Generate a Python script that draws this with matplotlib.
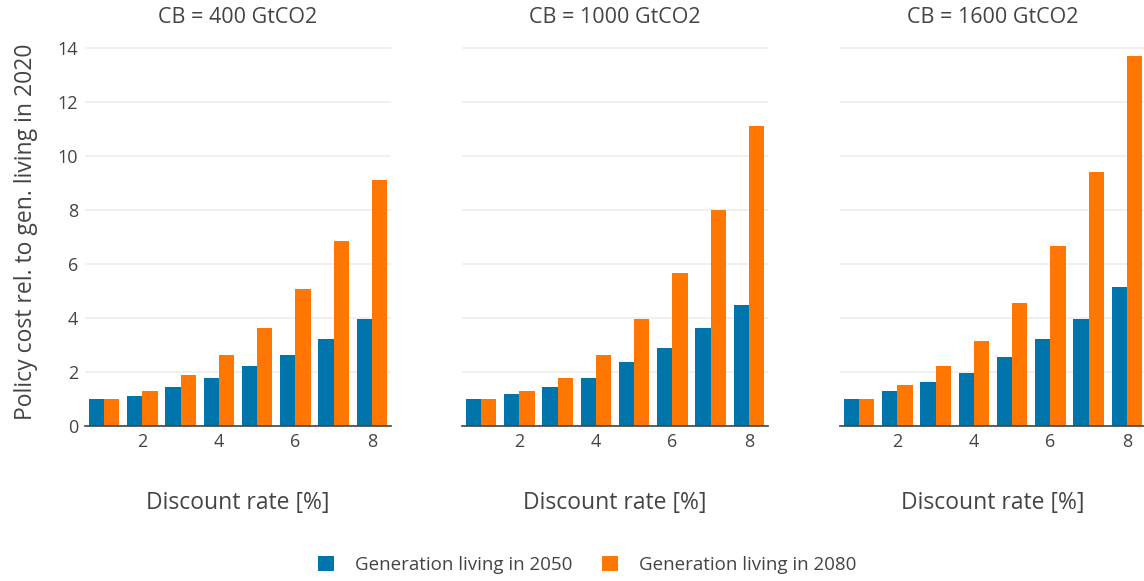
import matplotlib
matplotlib.use("Agg")
import matplotlib.pyplot as plt
import numpy as np

plt.rcParams["font.family"] = ["Open Sans", "DejaVu Sans"]

DISCOUNT_RATES = [1, 2, 3, 4, 5, 6, 7, 8]
PANEL_TITLES = ["CB = 400 GtCO2", "CB = 1000 GtCO2", "CB = 1600 GtCO2"]
SERIES_NAMES = ["Generation living in 2050", "Generation living in 2080"]

# policy cost relative to generation living in 2020
gen2050_cb400 = [1.0, 1.10, 1.43, 1.76, 2.21, 2.62, 3.21, 3.95]
gen2080_cb400 = [1.0, 1.28, 1.87, 2.62, 3.61, 5.06, 6.83, 9.09]
gen2050_cb1000 = [1.0, 1.17, 1.43, 1.76, 2.36, 2.87, 3.61, 4.47]
gen2080_cb1000 = [1.0, 1.28, 1.76, 2.62, 3.95, 5.65, 7.98, 11.09]
gen2050_cb1600 = [1.0, 1.28, 1.62, 1.95, 2.54, 3.21, 3.95, 5.13]
gen2080_cb1600 = [1.0, 1.50, 2.21, 3.13, 4.54, 6.65, 9.42, 13.68]

BLUE = "#0075ab"
ORANGE = "#ff7600"
TEXT = "#444444"

W, H = 1144, 581
fig = plt.figure(figsize=(W / 100, H / 100), dpi=100)

panels = [
    (gen2050_cb400, gen2080_cb400),
    (gen2050_cb1000, gen2080_cb1000),
    (gen2050_cb1600, gen2080_cb1600),
]
lefts = [85, 462, 840]
ax_w, top_px, bottom_px = 306, 37, 426

x = np.array(DISCOUNT_RATES)
bw = 0.4
for i, (blue, orange) in enumerate(panels):
    ax = fig.add_axes([lefts[i] / W, 1 - bottom_px / H, ax_w / W, (bottom_px - top_px) / H])
    ax.bar(x - bw / 2, blue, bw, color=BLUE, label=SERIES_NAMES[0], zorder=2)
    ax.bar(x + bw / 2, orange, bw, color=ORANGE, label=SERIES_NAMES[1], zorder=2)
    ax.set_xlim(0.5, 8.5)
    ax.set_ylim(0, 14.4)
    ax.set_xticks([2, 4, 6, 8])
    ax.set_yticks([0, 2, 4, 6, 8, 10, 12, 14])
    ax.grid(axis="y", color="#eeeeee", linewidth=1.2, zorder=0)
    for s in ["top", "right", "left"]:
        ax.spines[s].set_visible(False)
    ax.spines["bottom"].set_color("#444444")
    ax.spines["bottom"].set_linewidth(1.2)
    ax.spines["bottom"].set_zorder(3)
    ax.tick_params(length=0, labelsize=13, labelcolor=TEXT, pad=5)
    if i > 0:
        ax.tick_params(labelleft=False)
    else:
        ax.set_ylabel("Policy cost rel. to gen. living in 2020", fontsize=16.5, color=TEXT, labelpad=14)
    ax.set_title(PANEL_TITLES[i], fontsize=15.5, color=TEXT, pad=10)
    ax.set_xlabel("Discount rate [%]", fontsize=16.5, color=TEXT, labelpad=29)
    if i == 0:
        handles, labels = ax.get_legend_handles_labels()

fig.legend(handles, labels, loc="center", bbox_to_anchor=(587 / W, 1 - 565 / H), ncol=2,
           frameon=False, fontsize=13.5, handlelength=0.85, handleheight=0.85,
           columnspacing=1.6, handletextpad=1.1, labelcolor=TEXT)

fig.savefig("out.png", dpi=100)
